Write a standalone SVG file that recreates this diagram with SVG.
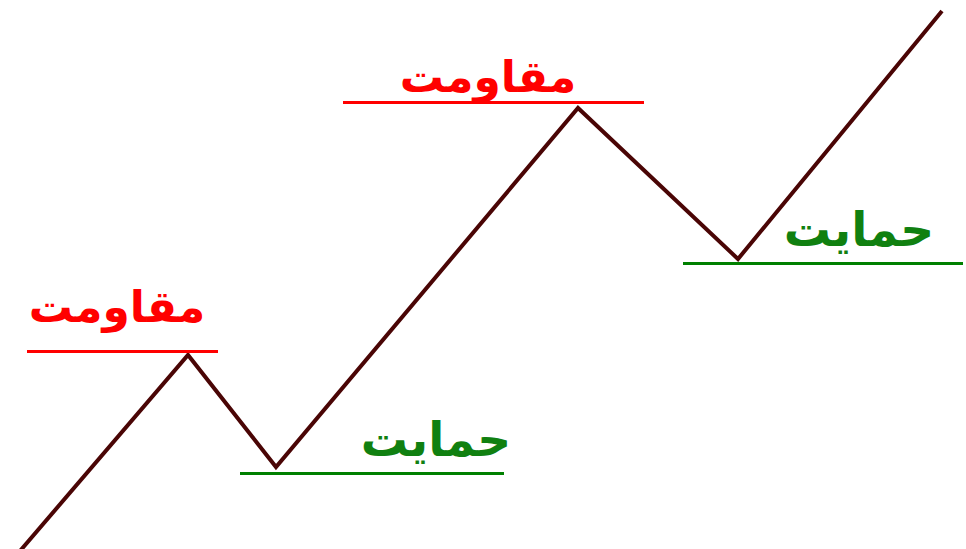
<svg xmlns="http://www.w3.org/2000/svg" width="966" height="549" viewBox="0 0 966 549">
<style>
.res{stroke:#ff0000;stroke-width:3}
.sup{stroke:#008000;stroke-width:3}
.rt{fill:#ff0000;font-family:"DejaVu Sans",sans-serif;font-weight:bold;font-size:44px;text-anchor:middle}
.st{fill:#108010;font-family:"DejaVu Sans",sans-serif;font-weight:bold;font-size:47px;text-anchor:middle}
</style>
<rect width="966" height="549" fill="#ffffff"/>
<g id="connectors">
<polyline points="20,551 188,355 276,467 578,108 738,259 942,11" fill="none" stroke="#4a0505" stroke-width="4" stroke-linejoin="miter"/>
</g>
<g id="resistance1"><line class="res" x1="27" y1="351.5" x2="218" y2="351.5"/><text class="rt" x="117" y="322" direction="rtl">مقاومت</text></g>
<g id="resistance2"><line class="res" x1="343" y1="102.5" x2="644" y2="102.5"/><text class="rt" x="488" y="92" direction="rtl">مقاومت</text></g>
<g id="support1"><line class="sup" x1="240" y1="473.5" x2="504" y2="473.5"/><text class="st" x="436" y="456" direction="rtl">حمایت</text></g>
<g id="support2"><line class="sup" x1="683" y1="263.5" x2="963" y2="263.5"/><text class="st" x="859" y="246" direction="rtl">حمایت</text></g>
</svg>
